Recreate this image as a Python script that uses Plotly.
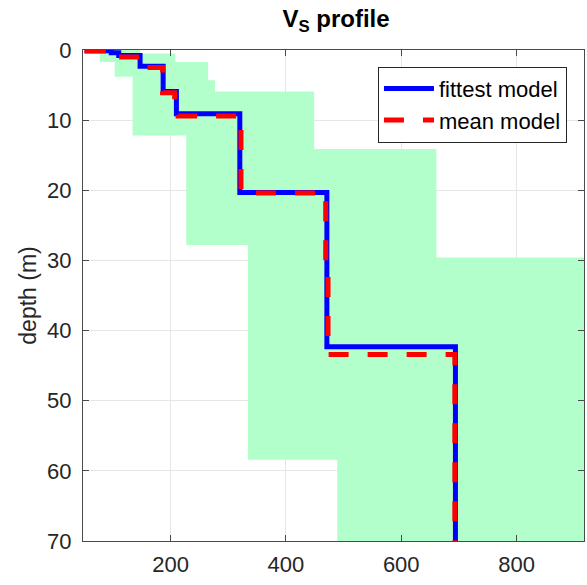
import plotly.graph_objects as go

# ---- data ----
# envelope of tested models: minimum and maximum Vs per depth interval
env_min_depth = [0, 0.3, 1.7, 3.8, 12.2, 27.8, 58.4, 70]
env_min_vs = [50, 77, 103, 134, 227, 334, 489]
env_max_depth = [0, 0.5, 1.7, 4.3, 5.9, 14.1, 29.6, 70]
env_max_vs = [147, 208, 265, 277, 449, 661, 917]

# fittest model (layer boundaries in m, Vs in m/s)
fit_depth = [0, 0.1, 0.4, 0.8, 2.3, 5.9, 9.1, 20.3, 42.3, 70]
fit_vs = [55, 97, 110, 147, 187, 210, 320, 471, 694]

# mean model
mean_depth = [0, 0.15, 0.5, 1.0, 2.5, 6.1, 7.8, 9.4, 20.4, 31.9, 43.4, 70]
mean_vs = [55, 95, 115, 150, 186, 207, 213, 322, 469, 473, 693]

x_ticks = [200, 400, 600, 800]
y_ticks = [0, 10, 20, 30, 40, 50, 60, 70]


def stairs(depths, vs):
    xs, ys = [], []
    for i, v in enumerate(vs):
        xs += [v, v]
        ys += [depths[i], depths[i + 1]]
    return xs, ys


lx, ly = stairs(env_min_depth, env_min_vs)
rx, ry = stairs(env_max_depth, env_max_vs)
poly_x = lx + rx[::-1] + [lx[0]]
poly_y = ly + ry[::-1] + [ly[0]]

fx, fy = stairs(fit_depth, fit_vs)
mx, my = stairs(mean_depth, mean_vs)

fig = go.Figure()
fig.add_trace(go.Scatter(
    x=poly_x, y=poly_y, mode="lines", fill="toself",
    fillcolor="rgb(179,255,204)", line=dict(width=0, color="rgb(179,255,204)"),
    showlegend=False, hoverinfo="skip"))
fig.add_trace(go.Scatter(
    x=fx, y=fy, mode="lines", name="fittest model",
    line=dict(color="rgb(0,0,255)", width=5)))
fig.add_trace(go.Scatter(
    x=mx, y=my, mode="lines", name="mean model",
    line=dict(color="rgb(255,0,0)", width=5, dash="20px,19px")))

axis_color = "#4a4a4a"
text_color = "#262626"
font_family = "Liberation Sans, Arial, sans-serif"

fig.update_layout(
    width=587, height=585,
    margin=dict(l=83, r=3, t=50, b=44),
    paper_bgcolor="white", plot_bgcolor="white",
    font=dict(family=font_family, size=22, color=text_color),
    title=dict(text="<b>V<sub>S</sub> profile</b>", x=0.505, xref="paper",
               y=0.968, yref="container", yanchor="middle",
               xanchor="center", font=dict(size=24, color="black")),
    showlegend=True,
    legend=dict(x=0.966, xanchor="right", y=0.966, yanchor="top",
                bgcolor="white", bordercolor=text_color, borderwidth=1,
                font=dict(size=22, color="black"), itemwidth=50,
                tracegroupgap=0),
)
fig.update_xaxes(
    range=[48, 917], tickvals=x_ticks, showgrid=True, gridcolor="#e6e6e6",
    gridwidth=1, zeroline=False, showline=True, linecolor=axis_color,
    linewidth=1, mirror="ticks", ticks="inside", ticklen=6,
    tickcolor=axis_color, tickfont=dict(size=22, color=text_color),
    ticklabelstandoff=4,
)
fig.update_yaxes(
    range=[70, 0], tickvals=y_ticks, showgrid=True, gridcolor="#e6e6e6",
    gridwidth=1, zeroline=False, showline=True, linecolor=axis_color,
    linewidth=1, mirror="ticks", ticks="inside", ticklen=6,
    tickcolor=axis_color, tickfont=dict(size=22, color=text_color),
    title=dict(text="depth (m)", font=dict(size=23, color=text_color),
               standoff=4),
    ticklabelstandoff=6,
)

fig.write_html("out.html")
